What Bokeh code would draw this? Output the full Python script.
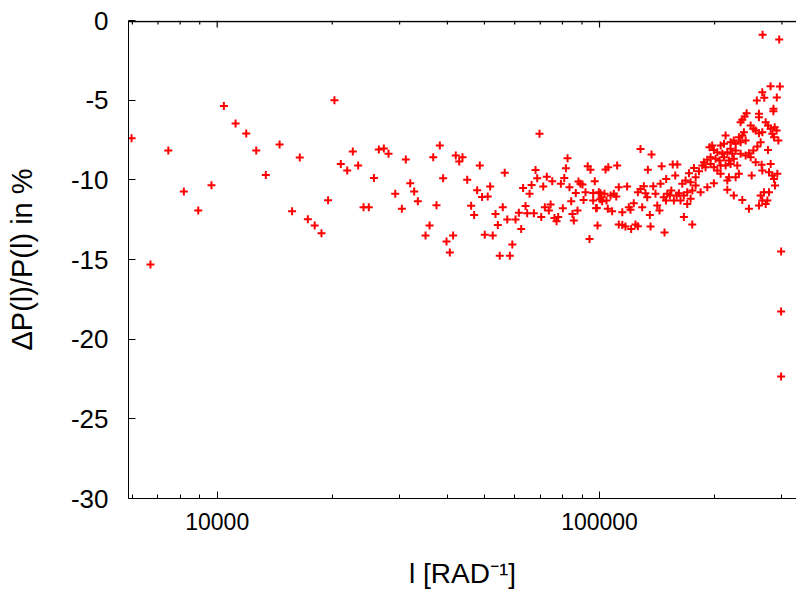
from bokeh.plotting import figure
from bokeh.models import FixedTicker, PrintfTickFormatter, Range1d
from bokeh.embed import file_html
from bokeh.resources import INLINE

# multipole l [rad^-1]
l_values = [
    5970, 6690, 7450, 8180, 8920, 9660, 10410, 11170, 11910, 12650,
    13400, 14560, 15700, 16440, 17260, 17990, 18740, 19500, 20260, 21050,
    21880, 22630, 23370, 24140, 24920, 25700, 26470, 27280, 28060, 29220,
    30410, 31140, 31980, 32750, 33480,
    35070, 35930, 36730, 37460, 38220, 38990, 39790, 40590, 41400, 42070,
    42950, 43810, 45070, 46150, 46990, 47850, 48620, 49290, 50100, 51000,
    51760, 52570, 53450, 54200, 54830, 55840, 56490, 57370, 58270, 59140,
    60300, 61520, 62390, 63120, 64040, 64690, 65620, 66420, 67340, 68020,
    68720, 69660, 70400, 71250, 71950, 72800, 73700, 74470, 75220, 76230,
    77200, 77980, 79240, 80180, 80860, 81660, 82480, 83460, 84320, 84960,
    85650, 86690, 87580, 88100, 89130, 90260, 90820, 91890, 93150, 94140,
    94700, 96260, 96260, 97180, 97950, 98380, 98800, 99560, 100400,
    100600, 101200, 101600, 103000, 103700, 104300, 105100, 105400, 106900, 107900,
    109000, 110600, 111200, 112300, 112300, 114700, 114700, 116900, 118100, 119300,
    120500, 121000, 122900, 124200, 126000, 126000, 128000, 128000, 129300, 130600,
    131900, 133300, 133800, 135400, 136000, 136800, 138200, 140100, 141600, 143500,
    144400, 145400, 147200, 147900, 149200, 149400, 150400, 152800, 154100, 155400,
    156500, 157800, 159100, 159800, 161300,
    242500, 239600, 236300, 233900, 261200, 261200, 284900, 248500, 252600, 256100,
    261200, 266600, 272000, 275800, 280300, 287200, 290600, 283200, 286000, 293600,
    275800, 263900, 258700, 252600, 245900, 241100, 248500, 256100, 265500, 266600,
    280300, 277500, 283200, 291800, 286000, 287700, 250000, 236300, 238600, 231500,
    224500, 220200, 213700, 227000, 233900, 241100, 211600, 207400, 197100, 194000,
    199100, 203300, 209500, 215900, 222400, 220200, 227000, 233900, 224500, 218000,
    211600, 205900, 201200, 195200, 191400, 187500, 185700, 189400, 195200, 199100,
    207400, 203300, 213700, 220200, 229300, 231500, 227000, 218000, 215900, 215900,
    207400, 199100, 191400, 183800, 176600, 171400, 182000, 178400, 173100, 167900,
    164600, 178400, 174900, 169600, 166100, 173100, 162900, 169600, 224500, 236300,
    245900, 263900, 269300, 277500, 266600, 274800, 261200, 272000,
    267000, 295100, 280200, 296300, 266500, 257900, 269700, 290900, 285100, 174800,
    166200, 298500, 298500, 298500,
]

# relative difference Delta P(l)/P(l) in %
dp_values = [
    -7.39, -15.32, -8.16, -10.73, -11.93, -10.34, -5.36, -6.47, -7.09, -8.16,
    -9.69, -7.78, -11.97, -8.60, -12.47, -12.87, -13.35, -11.28, -5.00, -9.00,
    -9.42, -8.22, -9.10, -11.72, -11.72, -9.88, -8.10, -8.04, -8.37, -10.88,
    -11.82, -8.73, -10.21, -10.73, -11.34,
    -13.50, -12.87, -8.58, -11.59, -7.85, -9.90, -13.87, -14.56, -13.50, -8.47,
    -8.85, -8.58, -10.00, -11.63, -12.20, -10.65, -9.10, -11.07, -13.45, -11.05,
    -10.42, -13.50, -12.14, -12.83, -14.77, -11.72, -9.56, -12.49, -14.77, -14.06,
    -12.49, -12.07, -13.08, -10.52, -11.65, -12.09, -10.88, -10.32, -12.09, -9.39,
    -9.90, -7.11, -12.34, -10.42, -11.72, -9.81, -11.93, -11.55, -10.09, -12.39,
    -12.60, -12.34, -10.25, -11.78, -9.88, -9.27, -8.64, -10.46, -11.34, -12.14,
    -12.55, -10.82, -11.93, -10.11, -10.25, -10.29, -11.26, -10.78, -9.15, -13.71,
    -9.37, -11.30, -10.82, -10.09, -11.78, -11.76, -12.87, -10.78, -11.22,
    -10.84, -11.09, -11.34, -10.88, -9.35, -11.30, -11.82, -9.21, -10.99, -11.97,
    -10.88, -11.05, -9.10, -10.46, -12.81, -12.03, -12.83, -12.93, -10.42, -11.72,
    -11.88, -13.08, -11.47, -12.81, -12.91, -10.78, -10.57, -8.06, -11.72, -10.40,
    -10.84, -11.09, -9.37, -12.20, -12.93, -8.41, -10.40, -10.88, -11.61, -11.93,
    -10.25, -9.15, -11.09, -13.31, -11.30, -9.94, -10.88, -10.99, -10.67, -9.04,
    -11.30, -9.73, -10.99, -9.04, -10.84,
    -5.82, -6.03, -6.23, -6.38, -5.86, -6.07, -5.69, -6.59, -6.80, -6.91,
    -7.07, -7.01, -6.38, -6.59, -6.80, -6.70, -6.91, -7.11, -7.33, -7.53,
    -8.12, -7.64, -7.91, -8.16, -8.33, -8.47, -8.58, -8.90, -9.06, -9.42,
    -9.00, -9.52, -9.73, -9.62, -9.94, -10.36, -9.73, -7.22, -7.01, -7.33,
    -7.53, -7.64, -7.22, -7.74, -7.64, -7.53, -7.74, -7.85, -7.85, -7.95,
    -8.12, -8.27, -8.37, -8.27, -8.37, -8.05, -8.16, -8.37, -8.68, -8.79,
    -8.58, -8.79, -8.68, -8.58, -8.74, -8.90, -9.10, -9.21, -9.00, -9.21,
    -9.10, -9.42, -9.10, -9.00, -9.10, -9.62, -9.84, -9.84, -10.04, -10.63,
    -9.62, -10.21, -10.46, -10.78, -9.25, -9.59, -9.46, -9.84, -10.15, -10.04,
    -10.25, -10.36, -10.67, -10.78, -10.99, -11.19, -11.30, -11.51, -10.99, -11.26,
    -11.82, -10.99, -10.78, -10.78, -11.30, -11.30, -11.61, -11.51,
    -0.90, -1.19, -4.12, -4.14, -4.50, -5.02, -4.85, -4.83, -5.54, -12.81,
    -12.34, -14.50, -18.27, -22.35,
]

x_major_ticks = [10000, 100000]
x_minor_ticks = [6000, 7000, 8000, 9000, 20000, 30000, 40000, 50000,
                 60000, 70000, 80000, 90000, 200000, 300000]
y_ticks = [-30, -25, -20, -15, -10, -5, 0]
x_label = "l [RAD\u207b\u00b9]"
y_label = "\u0394P(l)/P(l) in %"

FONT = "Liberation Sans"
X_MIN, X_MAX = 5861, 327500
Y_MIN, Y_MAX = -30, 0
FRAME_H = 591 - 20 - 93

p = figure(width=796, height=591, x_axis_type="log", title=None,
           x_range=Range1d(X_MIN, X_MAX), y_range=Range1d(Y_MIN, Y_MAX),
           output_backend="svg", toolbar_location=None,
           min_border_left=128, min_border_right=0,
           min_border_top=20, min_border_bottom=93)

p.scatter(l_values, dp_values, marker="cross", size=8, line_width=2,
          color="#ff0000")

p.xgrid.visible = False
p.ygrid.visible = False
p.outline_line_color = None
p.background_fill_color = "white"
p.border_fill_color = "white"

xa = p.xaxis[0]
xa.ticker = FixedTicker(ticks=x_major_ticks, minor_ticks=x_minor_ticks)
xa.formatter = PrintfTickFormatter(format="%d")
xa.major_tick_in = 7
xa.major_tick_out = 0
xa.minor_tick_in = 4
xa.minor_tick_out = 0
xa.major_label_text_font = FONT
xa.major_label_text_font_size = "23px"
xa.major_label_text_color = "black"
xa.major_label_standoff = 14
xa.axis_label = x_label
xa.axis_label_text_font = FONT
xa.axis_label_text_font_size = "28px"
xa.axis_label_text_font_style = "normal"
xa.axis_label_text_color = "black"
xa.axis_label_standoff = 25
xa.axis_line_color = "black"

ya = p.yaxis[0]
ya.ticker = FixedTicker(ticks=y_ticks, minor_ticks=[])
ya.formatter = PrintfTickFormatter(format="%d")
ya.major_tick_in = 7
ya.major_tick_out = 0
ya.minor_tick_in = 0
ya.minor_tick_out = 0
ya.major_label_text_font = FONT
ya.major_label_text_font_size = "26px"
ya.major_label_text_color = "black"
ya.major_label_standoff = 20
ya.axis_label = y_label
ya.axis_label_text_font = FONT
ya.axis_label_text_font_size = "29px"
ya.axis_label_text_font_style = "normal"
ya.axis_label_text_color = "black"
ya.axis_label_standoff = 30
ya.axis_line_color = "black"

# top border (horizontal span glyph) with inward ticks
units_per_px = (Y_MAX - Y_MIN) / FRAME_H
p.hspan(y=[Y_MAX - 0.8 * units_per_px], line_color="black", line_width=1.5)
p.segment(x0=x_major_ticks, x1=x_major_ticks,
          y0=[Y_MAX] * len(x_major_ticks),
          y1=[Y_MAX - 7 * units_per_px] * len(x_major_ticks),
          line_color="black", line_width=1.2)
p.segment(x0=x_minor_ticks, x1=x_minor_ticks,
          y0=[Y_MAX] * len(x_minor_ticks),
          y1=[Y_MAX - 4 * units_per_px] * len(x_minor_ticks),
          line_color="black", line_width=1.2)

open("out.html", "w").write(file_html(p, INLINE))
